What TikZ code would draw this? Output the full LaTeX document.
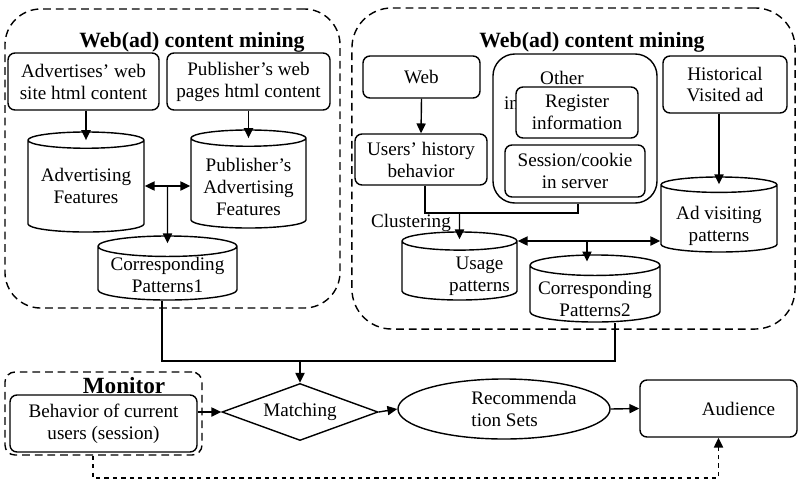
\documentclass[tikz,border=0pt]{standalone}
\usepackage{fontspec}
\setmainfont{Liberation Serif}
\usetikzlibrary{arrows.meta,shapes.geometric,positioning}
\tikzset{
    >={Triangle[length=7pt,width=6.5pt]},
    box/.style={
           draw, line width=1pt,
           rounded corners=5pt,
           inner sep=0pt,
           align=center},
    db/.style={
           draw, line width=1pt,
           cylinder, shape border rotate=90,
           aspect=0.18,
           anchor=shape center,
           inner sep=0pt},
    zone/.style={
           draw, line width=1pt,
           dash pattern=on 5.5pt off 3.5pt,
           rounded corners=#1},
    txt/.style={inner sep=0pt},
    title/.style={
           inner sep=0pt,
           font=\fontsize{15.5}{17}\selectfont\bfseries},
    pil/.style={
           ->,
           line width=1pt},
    dpil/.style={
           <->,
           line width=1pt},
    lnk/.style={line width=1pt}
}
% text of a cylinder, sunk below the shape's centre
\newcommand\dbtext[2][6pt]{\raisebox{-#1}[0pt][0pt]{\begin{tabular}{@{}c@{}}#2\end{tabular}}}

\begin{document}
\begin{tikzpicture}[x=0.025cm, y=-0.025cm, font=\fontsize{13.6}{15.6}\selectfont]
          \useasboundingbox (0,0) rectangle (803,482);
          % dashed zones
          \node[zone=0.9cm, minimum width=8.375cm, minimum height=7.475cm] (leftzone) at (172.5,158.5) {};
          \node[zone=1cm, minimum width=11.075cm, minimum height=8.025cm] (rightzone) at (573.5,168.5) {};
          \node[zone=0.25cm, minimum width=4.925cm, minimum height=2.075cm] (monzone) at (103.5,413.5) {};
          \node[title] (lefttitle) at (192,42) {Web(ad) content mining};
          \node[title] (righttitle) at (592,42) {Web(ad) content mining};
          \node[title, font=\fontsize{16.5}{18}\selectfont\bfseries] (montitle) at (124,386) {Monitor};
          % content side
          \node[box, minimum width=3.775cm, minimum height=1.425cm] (adsite) at (83.5,81.5) {Advertises' web\\site html content};
          \node[box, minimum width=4.075cm, minimum height=1.425cm] (pubsite) at (248.5,81.5) {Publisher's web\\pages html content};
          \node[db, minimum width=2.9cm, minimum height=2.5cm] (adfeat) at (86,182) {\dbtext[4.6pt]{Advertising\\Features}};
          \node[db, minimum width=2.875cm, minimum height=2.45cm] (pubfeat) at (248.5,179) {\dbtext[7.8pt]{Publisher's\\Advertising\\Features}};
          \node[db, minimum width=3.475cm, minimum height=1.6cm] (corr1) at (167.5,268) {\dbtext[6.3pt]{Corresponding\\Patterns1}};
          % usage side
          \node[box, minimum width=2.925cm, minimum height=1.05cm] (web) at (421.5,77) {Web};
          \node[box, minimum width=3.3cm, minimum height=1.275cm] (userhist) at (421,159.5) {Users' history\\behavior};
          \node[box, rounded corners=0.55cm, minimum width=4.1cm, minimum height=3.725cm] (other) at (575,128.5) {};
          \node[txt] (othertxt) at (562,78) {Other};
          \node[txt] (intxt) at (511.5,103) {in};
          \node[box, fill=white, minimum width=3.05cm, minimum height=1.275cm] (register) at (577,112.5) {Register\\information};
          \node[box, minimum width=3.5cm, minimum height=1.3cm] (session) at (575,171) {Session/cookie\\in server};
          \node[box, minimum width=3.1cm, minimum height=1.425cm] (hist) at (725,84.5) {Historical\\Visited ad};
          \node[db, minimum width=2.9cm, minimum height=1.875cm] (advisit) at (719,214.5) {\dbtext[8.8pt]{Ad visiting\\patterns}};
          \node[db, minimum width=2.875cm, minimum height=1.7cm] (usage) at (459.5,266) {\dbtext[7.6pt]{\hspace*{1cm}Usage\\\hspace*{1cm}patterns}};
          \node[db, minimum width=3.25cm, minimum height=1.675cm] (corr2) at (595,288.5) {\dbtext[9pt]{Corresponding\\Patterns2}};
          \node[txt] (clust) at (411,223) {Clustering};
          % bottom row
          \node[box, minimum width=4.675cm, minimum height=1.425cm] (behav) at (103.5,423.5) {Behavior of current\\users (session)};
          \node[diamond, draw, line width=1pt, aspect=2.74, minimum width=3.9cm, minimum height=1.425cm, inner sep=0pt] (match) at (300,412) {Matching};
          \node[ellipse, draw, line width=1pt, minimum width=5.3cm, minimum height=1.5cm, inner sep=0pt, align=left] (recset) at (504,409) {\hspace*{1cm}Recommenda\\\hspace*{1cm}tion Sets};
          \node[box, minimum width=3.925cm, minimum height=1.425cm] (aud) at (718.5,408.5) {\hspace*{1cm}Audience};
          % connectors
          \coordinate (j1) at (167.5,186);
          \coordinate (bus) at (300,361);
          \coordinate (clus) at (459.5,213);
          \coordinate (j2) at (587,241);
          \coordinate (c2t) at ([yshift=-0.18cm]corr2.north);
          \coordinate (fb) at (93,478);
          \draw[pil] (adfeat.north |- adsite.south) -- ([yshift=-0.22cm]adfeat.north);
          \draw[pil] (pubfeat.north |- pubsite.south) -- ([yshift=-0.22cm]pubfeat.north);
          \draw[dpil] (adfeat.east |- j1) -- (pubfeat.west |- j1);
          \draw[pil] (j1) -- ([yshift=-0.2cm]corr1.north);
          \draw[lnk] ([xshift=-0.14cm]corr1.south) |- (bus) -| ([xshift=0.5cm]corr2.south);
          \draw[pil] (bus) -- (match.north);
          \draw[pil] (web.south) -- (userhist.north);
          \draw[lnk] ([xshift=0.1cm]userhist.south) |- (clus) -| ([xshift=0.075cm]other.south);
          \draw[pil] (clus) -- ([yshift=-0.2cm]usage.north);
          \draw[pil] (advisit.north |- hist.south) -- ([yshift=-0.2cm]advisit.north);
          \draw[dpil] (usage.east |- j2) -- (advisit.west |- j2);
          \draw[pil] (j2) -- (j2 |- c2t);
          \draw[pil] (behav.east |- match.west) -- (match.west);
          \draw[pil] (match.east) -- (recset.west);
          \draw[pil] (recset.east) -- (aud.west);
          \draw[pil, dashed] (fb |- monzone.south) -- (fb) -| (aud.south);
\end{tikzpicture}
\end{document}
